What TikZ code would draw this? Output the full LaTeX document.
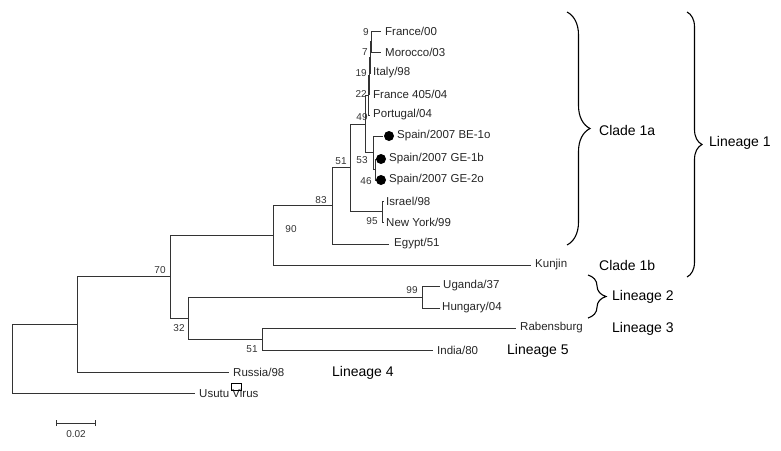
\documentclass[tikz,border=0pt]{standalone}
\usepackage{fontspec}
\setmainfont{Liberation Sans}
\usetikzlibrary{decorations.pathreplacing}
\begin{document}
\begin{tikzpicture}[x=1pt,y=-1pt,
 br/.style={line width=0.9pt,draw=black!80},
 leaf/.style={anchor=west,inner sep=0pt,font=\fontsize{11.5}{12}\selectfont,text=black!85},
 boot/.style={inner sep=0pt,font=\fontsize{10}{11}\selectfont,text=black!80},
 grp/.style={anchor=west,inner sep=0pt,font=\fontsize{14}{16}\selectfont},
 bracebr/.style={decorate,decoration={brace,amplitude=#1},line width=1.1pt},
 dotm/.style={circle,fill=black,inner sep=0pt,minimum size=10pt}]
\useasboundingbox (0,0) rectangle (781,450);
% internal nodes
\coordinate (root) at (12,358.7);
\coordinate (nA) at (77,324.35);
\coordinate (n70) at (170,276.7);
\coordinate (n90) at (273,235.4);
\coordinate (n83) at (332,205.9);
\coordinate (n51) at (350,167.77);
\coordinate (nIsr) at (382,211.5);
\coordinate (n49) at (365,124.03);
\coordinate (nTop) at (368,95.31);
\coordinate (n22) at (369,75.625);
\coordinate (n19) at (370,57.25);
\coordinate (n9) at (371,41.5);
\coordinate (n53) at (373,152.75);
\coordinate (nGE) at (375,169.5);
\coordinate (n32) at (188,318);
\coordinate (n99) at (422,297);
\coordinate (n51b) at (262,339);
% tips
\coordinate (tF00) at (381,31);
\coordinate (tMor) at (381,52);
\coordinate (tIta) at (371,73);
\coordinate (tF405) at (370,94);
\coordinate (tPor) at (370,115);
\coordinate (tBE) at (383,136);
\coordinate (tGE1) at (377,159);
\coordinate (tGE2) at (377,180);
\coordinate (tIsr) at (384,201);
\coordinate (tNY) at (384,222);
\coordinate (tEgy) at (389,244);
\coordinate (tKun) at (531,265);
\coordinate (tUga) at (440,286);
\coordinate (tHun) at (440,308);
\coordinate (tRab) at (516,328);
\coordinate (tInd) at (433,350);
\coordinate (tRus) at (229,372);
\coordinate (tUsu) at (195,393);
% branches
\draw[br] (root) |- (nA);
\draw[br] (root) |- (tUsu);
\draw[br] (nA) |- (n70);
\draw[br] (nA) |- (tRus);
\draw[br] (n70) |- (n90);
\draw[br] (n70) |- (n32);
\draw[br] (n90) |- (n83);
\draw[br] (n90) |- (tKun);
\draw[br] (n83) |- (n51);
\draw[br] (n83) |- (tEgy);
\draw[br] (n51) |- (n49);
\draw[br] (n51) |- (nIsr);
\draw[br] (nIsr) |- (tIsr);
\draw[br] (nIsr) |- (tNY);
\draw[br] (n49) |- (nTop);
\draw[br] (n49) |- (n53);
\draw[br] (nTop) |- (n22);
\draw[br] (nTop) |- (tPor);
\draw[br] (n22) |- (n19);
\draw[br] (n22) |- (tF405);
\draw[br] (n19) |- (n9);
\draw[br] (n19) |- (tIta);
\draw[br] (n9) |- (tF00);
\draw[br] (n9) |- (tMor);
\draw[br] (n53) |- (tBE);
\draw[br] (n53) |- (nGE);
\draw[br] (nGE) |- (tGE1);
\draw[br] (nGE) |- (tGE2);
\draw[br] (n32) |- (n99);
\draw[br] (n32) |- (n51b);
\draw[br] (n99) |- (tUga);
\draw[br] (n99) |- (tHun);
\draw[br] (n51b) |- (tRab);
\draw[br] (n51b) |- (tInd);
% dots
\node[dotm] (dBE) at (389,136) {};
\node[dotm] (dGE1) at (381,159) {};
\node[dotm] (dGE2) at (381,180) {};
% leaf labels
\node[leaf] (lF00) at (385,31) {France/00};
\node[leaf] (lMor) at (385,52) {Morocco/03};
\node[leaf] (lIta) at (373,73) {Italy/98};
\node[leaf] (lF405) at (373,94) {France 405/04};
\node[leaf] (lPor) at (373,115) {Portugal/04};
\node[leaf] (lBE) at (397,136) {Spain/2007 BE-1o};
\node[leaf] (lGE1) at (389,159) {Spain/2007 GE-1b};
\node[leaf] (lGE2) at (389,180) {Spain/2007 GE-2o};
\node[leaf] (lIsr) at (386,201) {Israel/98};
\node[leaf] (lNY) at (386,222) {New York/99};
\node[leaf] (lEgy) at (394,244) {Egypt/51};
\node[leaf] (lKun) at (535,265) {Kunjin};
\node[leaf] (lUga) at (443,286) {Uganda/37};
\node[leaf] (lHun) at (442,308) {Hungary/04};
\node[leaf] (lRab) at (520,328) {Rabensburg};
\node[leaf] (lInd) at (437,350) {India/80};
\node[leaf] (lRus) at (233,372) {Russia/98};
\node[leaf] (lUsu) at (199,393) {Usutu Virus};
\draw[line width=1pt] (231,383) rectangle (241,390);
% bootstrap values
\node[boot,anchor=east] (b9) at (369,32) {9};
\node[boot,anchor=east] (b7) at (368,52) {7};
\node[boot,anchor=east] (b19) at (367,73) {19};
\node[boot,anchor=east] (b22) at (367,94) {22};
\node[boot] (b49) at (362,117) {49};
\node[boot] (b53) at (362,160) {53};
\node[boot] (b46) at (366,181) {46};
\node[boot] (b51) at (341,161) {51};
\node[boot] (b95) at (372,221) {95};
\node[boot] (b83) at (321,200) {83};
\node[boot] (b90) at (291,229) {90};
\node[boot] (b70) at (160,270) {70};
\node[boot] (b32) at (179,328) {32};
\node[boot] (b51b) at (252,349) {51};
\node[boot] (b99) at (412,290) {99};
% braces
\coordinate (c1aT) at (567,12);
\coordinate (c1aB) at (567,245);
\draw[bracebr=23] (c1aT) -- (c1aB);
\coordinate (l1T) at (687,12);
\coordinate (l1B) at (687,277);
\draw[bracebr=15] (l1T) -- (l1B);
\coordinate (l2T) at (588,275);
\coordinate (l2B) at (588,318);
\draw[bracebr=18] (l2T) -- (l2B);
% group labels
\node[grp] (gC1a) at (599,130) {Clade 1a};
\node[grp] (gL1) at (709,143) {Lineage 1};
\node[grp] (gC1b) at (599,265) {Clade 1b};
\node[grp] (gL2) at (612,297) {Lineage 2};
\node[grp] (gL3) at (612,329) {Lineage 3};
\node[grp] (gL5) at (507,351) {Lineage 5};
\node[grp] (gL4) at (332,373) {Lineage 4};
% scale bar
\coordinate (sL) at (56,423);
\coordinate (sR) at (95,423);
\draw[br] (sL) -- (sR);
\draw[br] ([yshift=-3pt]sL) -- ([yshift=3pt]sL);
\draw[br] ([yshift=-3pt]sR) -- ([yshift=3pt]sR);
\node[boot] (sLab) at (76,434) {0.02};
\end{tikzpicture}
\end{document}
